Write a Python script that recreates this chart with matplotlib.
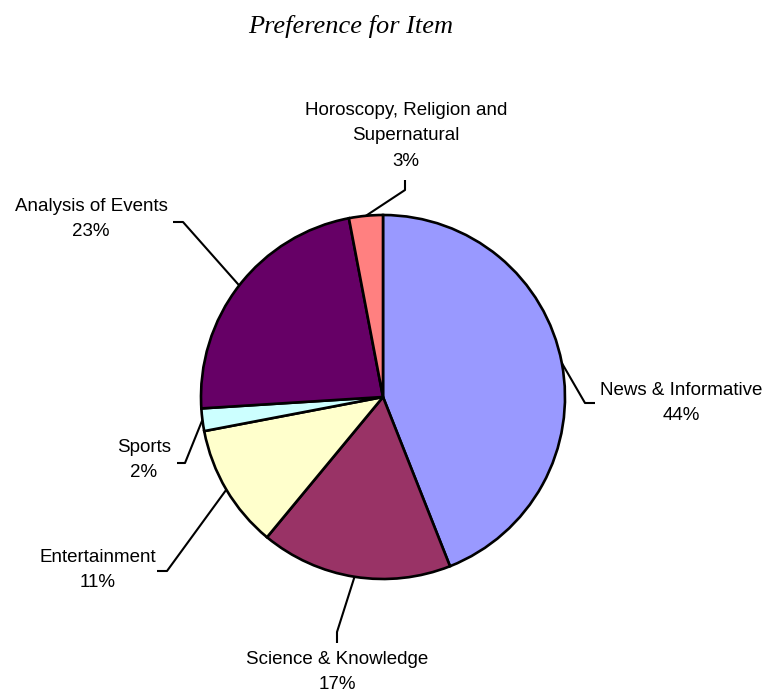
import numpy as np
import matplotlib
matplotlib.use("Agg")
import matplotlib.pyplot as plt

title = "Preference for Item"
categories = ["News & Informative", "Science & Knowledge", "Entertainment",
              "Sports", "Analysis of Events", "Horoscopy, Religion and\nSupernatural"]
values = [44, 17, 11, 2, 23, 3]
colors = ["#9999FF", "#993366", "#FFFFCC", "#CCFFFF", "#660066", "#FF8080"]

W, H = 765, 695
fig = plt.figure(figsize=(W / 100, H / 100), dpi=100)
ax = fig.add_axes([0, 0, 1, 1])

def Y(py):
    return H - py

cx, cy, r = 383, Y(397), 182
ax.pie(values, colors=colors, startangle=90, counterclock=False,
       center=(cx, cy), radius=r, frame=True,
       wedgeprops=dict(edgecolor="black", linewidth=1.9))
ax.set_xlim(0, W)
ax.set_ylim(0, H)
ax.set_aspect("equal")
ax.axis("off")

# label layout (pixel coords): elbow, end, text centre
layout = [
    ((585, 403), (595, 403), (681, 403)),
    ((337, 632), (337, 643), (337, 672)),
    ((167, 571), (157, 571), (98, 570)),
    ((185, 463), (177, 463), (144, 460)),
    ((183, 222), (173, 222), (91, 219)),
    ((405, 190), (405, 180), (406, 136)),
]

total = sum(values)
cum = 0
for v, name, (elb, end, tc) in zip(values, categories, layout):
    mid = (cum + v / 2) / total
    cum += v
    th = np.deg2rad(90 - 360 * mid)
    sx, sy = cx + r * np.cos(th), cy + r * np.sin(th)
    ax.plot([sx, elb[0], end[0]], [sy, Y(elb[1]), Y(end[1])],
            color="black", linewidth=1.5, solid_capstyle="butt", zorder=1)
    pct = f"{round(100 * v / total)}%"
    ax.text(tc[0], Y(tc[1]), f"{name}\n{pct}", ha="center", va="center",
            fontsize=13.5, family="Liberation Sans", linespacing=1.62)

ax.text(351, Y(27), title, ha="center", va="center", fontsize=19,
        family="Liberation Serif", style="italic")

fig.savefig("out.png", dpi=100)
